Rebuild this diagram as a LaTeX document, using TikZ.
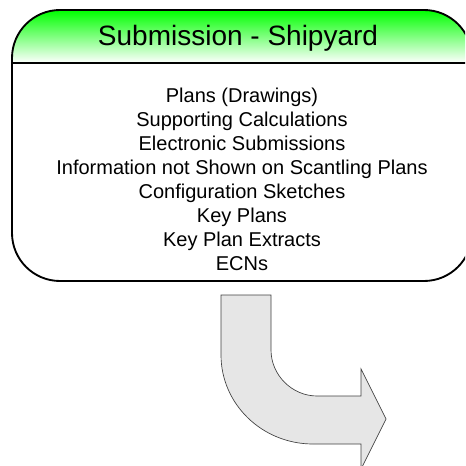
\documentclass[tikz,border=0pt]{standalone}
\usepackage{fontspec}
\setmainfont{Liberation Sans}
\usepackage{tikz}
\usetikzlibrary{positioning,calc}
\definecolor{hdrgreen}{RGB}{0, 255, 0}
\definecolor{arrowgray}{RGB}{230, 230, 230}
\tikzstyle{boxline} = [draw=black, line width=1.4pt]
\tikzstyle{titletext} = [inner sep=0, text centered, font=\fontsize{21}{25}\selectfont]
\tikzstyle{itemtext} = [inner sep=0, align=center, font=\fontsize{15}{18}\selectfont]
\tikzstyle{bentarrow} = [fill=arrowgray, draw=black!75, line width=0.5pt, line join=miter]

\begin{document}
\begin{tikzpicture}[x=0.75pt,y=-0.75pt]
    \useasboundingbox (0,0) rectangle (465,466);
    \clip (0,0) rectangle (465,466);
    % Header shading
    \begin{scope}
      \clip[rounded corners=36pt] (12,10) rectangle (472,281);
      \shade[top color=hdrgreen, bottom color=white] (12,10) rectangle (472,63);
    \end{scope}
    % Submission box
    \draw[boxline, rounded corners=36pt] (12,10) rectangle (472,281);
    \draw[boxline] (12,63) -- (472,63);
    % Title text
    \node[titletext] (Title) at (238,38) {Submission - Shipyard};
    % Submitted items
    \node[itemtext] (Items) at (242,179)
    {
      Plans (Drawings)\\
      Supporting Calculations\\
      Electronic Submissions\\
      Information not Shown on Scantling Plans\\
      Configuration Sketches\\
      Key Plans\\
      Key Plan Extracts\\
      ECNs
    };
    % Bent arrow
    \draw[bentarrow] (221,295) -- (271,295) -- (271,350)
      .. controls (271,375) and (292,396) .. (317,396)
      -- (361,396) -- (361,369) -- (386,419) -- (361,469) -- (361,444)
      -- (313,444) .. controls (262,444) and (221,404) .. (221,355) -- cycle;
\end{tikzpicture}
\end{document}
